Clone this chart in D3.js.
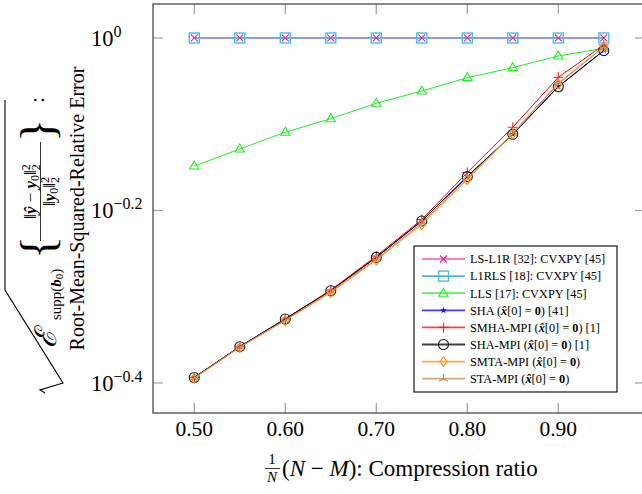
<!DOCTYPE html>
<html>
<head>
<meta charset="utf-8">
<script src="https://cdn.jsdelivr.net/npm/d3@7"></script>
</head>
<body style="margin:0; background:#fff">
<div id="chart"></div>
<script>
// compression ratio (x) and RMS relative error per method (y, log scale)
const ratios = [0.50, 0.55, 0.60, 0.65, 0.70, 0.75, 0.80, 0.85, 0.90, 0.95];
const lsL1r = [1, 1, 1, 1, 1, 1, 1, 1, 1, 1];
const l1rls = [1, 1, 1, 1, 1, 1, 1, 1, 1, 1];
const lls = [0.7104, 0.7436, 0.7776, 0.8062, 0.8400, 0.8680, 0.8995, 0.9238, 0.9531, 0.9729];
const sha = [0.4042, 0.4388, 0.4725, 0.5095, 0.5570, 0.6138, 0.6910, 0.7738, 0.8786, 0.9672];
const smhaMpi = [0.4040, 0.4386, 0.4723, 0.5103, 0.5588, 0.6160, 0.6983, 0.7881, 0.9003, 0.9815];
const shaMpi = [0.4040, 0.4386, 0.4723, 0.5093, 0.5567, 0.6135, 0.6906, 0.7733, 0.8780, 0.9667];
const smtaMpi = [0.4032, 0.4377, 0.4704, 0.5069, 0.5528, 0.6077, 0.6855, 0.7740, 0.8845, 0.9763];
const staMpi = [0.4037, 0.4383, 0.4710, 0.5083, 0.5543, 0.6103, 0.6874, 0.7757, 0.8868, 0.9763];

const xTicks = [0.5, 0.6, 0.7, 0.8, 0.9];
const yTickExps = [0, -0.2, -0.4];

// legend label parts: [text, style] where b = bold, bi = bold italic
const hat0 = [["(", ""], ["x̂", "bi"], ["[0] = ", ""], ["0", "b"], [")", ""]];
const series = [
  {name: [["LS-L1R [32]: CVXPY [45]", ""]], values: lsL1r, line: "#f25cb4", mark: "#ec1f94", shape: "cross"},
  {name: [["L1RLS [18]: CVXPY [45]", ""]], values: l1rls, line: "#1d93e6", mark: "#45bff0", shape: "square"},
  {name: [["LLS [17]: CVXPY [45]", ""]], values: lls, line: "#22ee22", mark: "#22ee22", shape: "triangle"},
  {name: [["SHA ", ""], ...hat0, [" [41]", ""]], values: sha, line: "#0000ff", mark: "#1010ff", shape: "star"},
  {name: [["SMHA-MPI ", ""], ...hat0, [" [1]", ""]], values: smhaMpi, line: "#ff0000", mark: "#ff2020", shape: "plus"},
  {name: [["SHA-MPI ", ""], ...hat0, [" [1]", ""]], values: shaMpi, line: "#000000", mark: "#202020", shape: "circle"},
  {name: [["SMTA-MPI ", ""], ...hat0], values: smtaMpi, line: "#ff8c1a", mark: "#ff8c1a", shape: "diamond"},
  {name: [["STA-MPI ", ""], ...hat0], values: staMpi, line: "#c8894f", mark: "#c8894f", shape: "tristar"}
];

const W = 642, H = 494;
const plot = {left: 153, right: 645, top: 4, bottom: 413};
const serif = "Liberation Serif";

const svg = d3.select("#chart").append("svg")
    .attr("width", W)
    .attr("height", H);

const x = d3.scaleLinear()
    .domain([0.45462, 0.99527])
    .range([plot.left, plot.right]);

const y = d3.scaleLog()
    .domain([Math.pow(10, 0.0394), Math.pow(10, -0.4348)])
    .range([plot.top, plot.bottom]);

// tick marks on all four sides, pointing inward
const ticks = svg.append("g").attr("stroke", "#a6a6a6").attr("stroke-width", 1.3);
xTicks.forEach(t => {
  ticks.append("line").attr("x1", x(t)).attr("x2", x(t)).attr("y1", plot.bottom).attr("y2", plot.bottom - 10);
  ticks.append("line").attr("x1", x(t)).attr("x2", x(t)).attr("y1", plot.top).attr("y2", plot.top + 10);
});
yTickExps.forEach(e => {
  const v = Math.pow(10, e);
  ticks.append("line").attr("x1", plot.left).attr("x2", plot.left + 10).attr("y1", y(v)).attr("y2", y(v));
  ticks.append("line").attr("x1", plot.right).attr("x2", plot.right - 10).attr("y1", y(v)).attr("y2", y(v));
});

// tick labels
svg.append("g").selectAll("text")
  .data(xTicks)
  .join("text")
    .attr("x", d => x(d))
    .attr("y", plot.bottom + 23)
    .attr("text-anchor", "middle")
    .attr("font-size", 21.5)
    .text(d3.format(".2f"));

const yLab = svg.append("g").selectAll("text")
  .data(yTickExps)
  .join("text")
    .attr("x", 91)
    .attr("y", d => y(Math.pow(10, d)) + 8)
    .attr("font-size", 22.5);
yLab.append("tspan").text("10");
yLab.append("tspan")
    .attr("dy", -9)
    .attr("font-size", 16)
    .text(d => d === 0 ? "0" : "−" + Math.abs(d).toFixed(1));

// data lines and markers
svg.append("defs").append("clipPath").attr("id", "plot-clip")
  .append("rect")
    .attr("x", plot.left).attr("y", plot.top)
    .attr("width", plot.right - plot.left).attr("height", plot.bottom - plot.top);

const line = d3.line()
    .x((d, i) => x(ratios[i]))
    .y(d => y(d));

function drawMarker(g, shape, color) {
  const s = g.append("g").attr("fill", "none").attr("stroke", color).attr("stroke-width", 1.1);
  if (shape === "cross") {
    s.append("path").attr("d", "M-3.5,-3.5L3.5,3.5M-3.5,3.5L3.5,-3.5");
  } else if (shape === "square") {
    s.attr("stroke-width", 1.4);
    s.append("rect").attr("x", -5).attr("y", -5).attr("width", 10).attr("height", 10);
  } else if (shape === "triangle") {
    s.append("path").attr("d", "M0,-5L4.6,3L-4.6,3Z");
  } else if (shape === "star") {
    s.append("path").attr("d", d3.symbol(d3.symbolStar, 14)).attr("fill", color).attr("stroke", "none");
  } else if (shape === "plus") {
    s.append("path").attr("d", "M-5,0L5,0M0,-5L0,5");
  } else if (shape === "circle") {
    s.append("circle").attr("r", 5);
  } else if (shape === "diamond") {
    s.append("path").attr("d", "M0,-5L3.5,0L0,5L-3.5,0Z");
  } else if (shape === "tristar") {
    s.append("path").attr("d", "M0,0L0,-5M0,0L4.3,2.5M0,0L-4.3,2.5");
  }
}

const dataG = svg.append("g").attr("clip-path", "url(#plot-clip)");
series.forEach(sr => {
  dataG.append("path")
      .datum(sr.values)
      .attr("fill", "none")
      .attr("stroke", sr.line)
      .attr("stroke-width", 1)
      .attr("d", line);
  sr.values.forEach((v, i) => {
    const m = dataG.append("g").attr("transform", `translate(${x(ratios[i])},${y(v)})`);
    drawMarker(m, sr.shape, sr.mark);
  });
});

// frame
svg.append("rect")
    .attr("x", plot.left).attr("y", plot.top)
    .attr("width", plot.right - plot.left).attr("height", plot.bottom - plot.top)
    .attr("fill", "none")
    .attr("stroke", "#4a4a4a")
    .attr("stroke-width", 1.3);

// legend
const leg = svg.append("g").attr("transform", "translate(414,246)");
leg.append("rect")
    .attr("width", 203).attr("height", 146)
    .attr("fill", "#fff")
    .attr("stroke", "#000")
    .attr("stroke-width", 1.1);
series.forEach((sr, i) => {
  const row = leg.append("g").attr("transform", `translate(0,${13 + i * 17.1})`);
  row.append("line")
      .attr("x1", 8).attr("x2", 51)
      .attr("stroke", sr.line).attr("stroke-width", 1.8).attr("stroke-opacity", 0.75);
  drawMarker(row.append("g").attr("transform", "translate(29.5,0)"), sr.shape, sr.mark);
  const t = row.append("text").attr("x", 56).attr("y", 4.3).attr("font-size", 12.3);
  sr.name.forEach(([txt, st]) => {
    t.append("tspan")
        .attr("font-weight", st.includes("b") ? "bold" : null)
        .attr("font-style", st.includes("i") ? "italic" : null)
        .text(txt);
  });
});

// x axis label
const xl = svg.append("g");
xl.append("text").attr("x", 272).attr("y", 464).attr("text-anchor", "middle").attr("font-size", 15).text("1");
xl.append("line").attr("x1", 265).attr("x2", 280).attr("y1", 468.5).attr("y2", 468.5).attr("stroke", "#000").attr("stroke-width", 0.8);
xl.append("text").attr("x", 272).attr("y", 482).attr("text-anchor", "middle").attr("font-size", 15).attr("font-style", "italic").text("N");
const xt = xl.append("text").attr("x", 282).attr("y", 476).attr("font-size", 23);
xt.append("tspan").text("(");
xt.append("tspan").attr("font-style", "italic").text("N");
xt.append("tspan").text(" − ");
xt.append("tspan").attr("font-style", "italic").text("M");
xt.append("tspan").text("): Compression ratio");

// y axis label (rotated, two lines)
const yl = svg.append("g").attr("transform", "rotate(-90)");
yl.append("text")
    .attr("x", -208.5).attr("y", 84)
    .attr("text-anchor", "middle")
    .attr("font-size", 20)
    .text("Root-Mean-Squared-Relative Error");

// radical sign
svg.append("path")
    .attr("d", "M45,393L40,390L63,383L5,290L5,100")
    .attr("fill", "none")
    .attr("stroke", "#000")
    .attr("stroke-width", 1.1);

const e1 = yl.append("text").attr("x", -348).attr("y", 56).attr("font-size", 30).attr("font-style", "italic");
e1.append("tspan").text("ℰ");
const e2 = yl.append("text").attr("x", -320).attr("y", 61).attr("font-size", 15);
e2.append("tspan").text("supp(");
e2.append("tspan").attr("font-weight", "bold").attr("font-style", "italic").text("b");
e2.append("tspan").attr("font-size", 11).attr("dy", 2).text("0");
e2.append("tspan").attr("dy", -2).text(")");
yl.append("text").attr("x", -259).attr("y", 54).attr("font-size", 48).text("{");
yl.append("text").attr("x", -142).attr("y", 54).attr("font-size", 48).text("}");
const num = yl.append("text").attr("x", -191.5).attr("y", 36).attr("text-anchor", "middle").attr("font-size", 17);
num.append("tspan").text("‖");
num.append("tspan").attr("font-weight", "bold").attr("font-style", "italic").text("ŷ");
num.append("tspan").text(" − ");
num.append("tspan").attr("font-weight", "bold").attr("font-style", "italic").text("y");
num.append("tspan").attr("font-size", 12).attr("dy", 3).text("0");
num.append("tspan").attr("dy", -3).text("‖");
num.append("tspan").attr("font-size", 12).attr("dy", -6).text("2");
num.append("tspan").attr("font-size", 12).attr("dx", -6).attr("dy", 10).text("2");
yl.append("line").attr("x1", -241).attr("x2", -142).attr("y1", 40.5).attr("y2", 40.5).attr("stroke", "#000").attr("stroke-width", 0.8);
const den = yl.append("text").attr("x", -191.5).attr("y", 55).attr("text-anchor", "middle").attr("font-size", 17);
den.append("tspan").text("‖");
den.append("tspan").attr("font-weight", "bold").attr("font-style", "italic").text("y");
den.append("tspan").attr("font-size", 12).attr("dy", 3).text("0");
den.append("tspan").attr("dy", -3).text("‖");
den.append("tspan").attr("font-size", 12).attr("dy", -6).text("2");
den.append("tspan").attr("font-size", 12).attr("dx", -6).attr("dy", 10).text("2");
yl.append("text").attr("x", -103).attr("y", 44).attr("font-size", 22).text(":");

// serif face on every text node
svg.selectAll("text, tspan").style("font-family", serif);
</script>
</body>
</html>
